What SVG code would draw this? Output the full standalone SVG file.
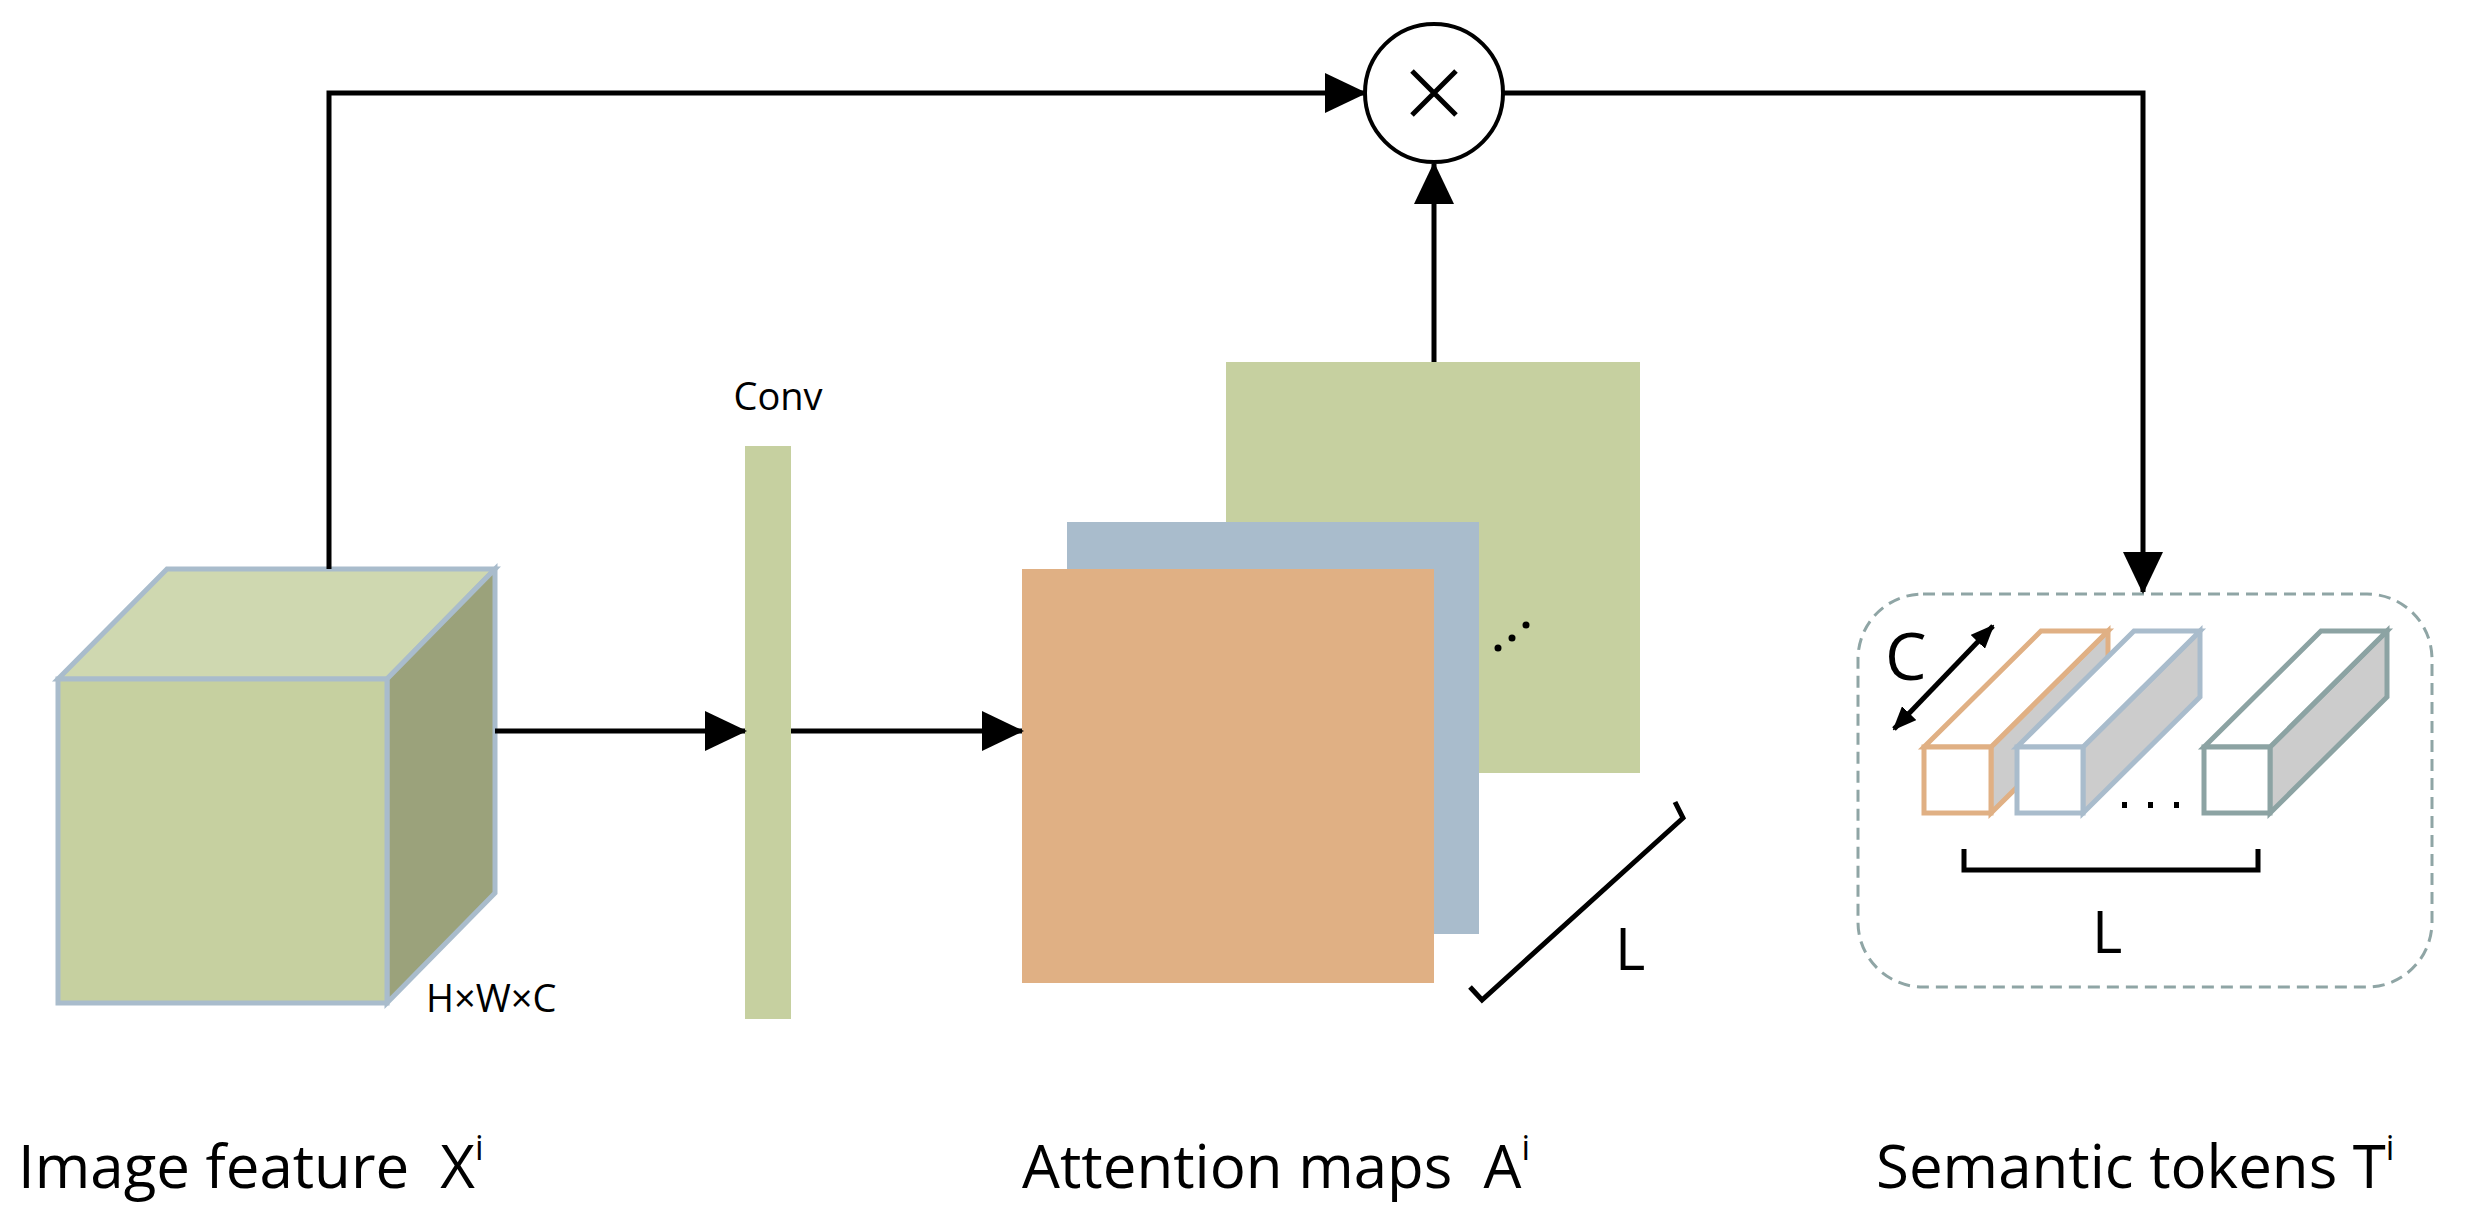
<svg xmlns="http://www.w3.org/2000/svg" width="2465" height="1212" viewBox="0 0 2465 1212">
<defs>
<marker id="ah" markerUnits="userSpaceOnUse" markerWidth="42" markerHeight="40" refX="40" refY="20" orient="auto"><path d="M0,0 L42,20 L0,40 Z" fill="#000"/></marker>
<marker id="sh" markerUnits="userSpaceOnUse" markerWidth="24" markerHeight="20" refX="22" refY="10" orient="auto-start-reverse"><path d="M0,0 L24,10 L0,20 Z" fill="#000"/></marker>
</defs>
<style>
text{font-family:"Open Sans","Noto Sans","Liberation Sans",sans-serif;fill:#000}
.ln{fill:none;stroke:#000;stroke-width:5}
.tok{stroke-width:5;stroke-linejoin:miter}
</style>
<rect width="2465" height="1212" fill="#fff"/>
<g id="image-feature">
<polygon points="58,679 167,569 495,569 387,679" fill="#cfd8b0" stroke="#a9bccc" stroke-width="5"/>
<polygon points="387,679 495,569 495,893 387,1003" fill="#9ba27b" stroke="#a9bccc" stroke-width="5"/>
<rect x="58" y="679" width="329" height="324" fill="#c6d0a0" stroke="#a9bccc" stroke-width="5"/>
<text x="426" y="1012" font-size="38">H×W×C</text>
<text x="18" y="1188" font-size="60">Image feature&#160;&#160;X<tspan font-size="34" dy="-28">i</tspan></text>
</g>
<g id="conv">
<rect x="745" y="446" width="46" height="573" fill="#c6d0a0"/>
<text x="778" y="410" font-size="38" text-anchor="middle">Conv</text>
</g>
<g id="attention-maps">
<rect x="1226" y="362" width="414" height="411" fill="#c6d0a0"/>
<rect x="1067" y="522" width="412" height="412" fill="#a9bccc"/>
<rect x="1022" y="569" width="412" height="414" fill="#e0b084"/>
<circle cx="1498" cy="648" r="3.5"/><circle cx="1512" cy="638" r="3.5"/><circle cx="1526" cy="625" r="3.5"/>
<path class="ln" d="M1470,987 L1482,1000 L1683,818 L1675,802"/>
<text x="1615" y="970" font-size="58">L</text>
<text x="1022" y="1188" font-size="60">Attention maps&#160;&#160;A<tspan font-size="34" dy="-28">i</tspan></text>
</g>
<g id="multiply">
<circle cx="1434" cy="93" r="69" fill="#fff" stroke="#000" stroke-width="4"/>
<path class="ln" d="M1412,71 L1456,115 M1456,71 L1412,115" stroke-width="3"/>
</g>
<g id="semantic-tokens">
<rect x="1858" y="594" width="574" height="393" rx="65" fill="none" stroke="#8fa5a5" stroke-width="3" stroke-dasharray="12,7"/>
<g class="tok" stroke="#e0b084">
<polygon points="1991,747 2108,631 2108,697 1991,813" fill="#cccccc"/>
<polygon points="1924,747 2041,631 2108,631 1991,747" fill="#fff"/>
<rect x="1924" y="747" width="67" height="66" fill="#fff"/>
</g>
<g class="tok" stroke="#a9bccc">
<polygon points="2083,747 2200,631 2200,697 2083,813" fill="#cccccc"/>
<polygon points="2017,747 2134,631 2200,631 2083,747" fill="#fff"/>
<rect x="2017" y="747" width="66" height="66" fill="#fff"/>
</g>
<g class="tok" stroke="#8ca3a3">
<polygon points="2270,747 2387,631 2387,697 2270,813" fill="#cccccc"/>
<polygon points="2204,747 2321,631 2387,631 2270,747" fill="#fff"/>
<rect x="2204" y="747" width="66" height="66" fill="#fff"/>
</g>
<rect x="2122" y="802" width="5" height="6"/><rect x="2148" y="802" width="5" height="6"/><rect x="2174" y="802" width="5" height="6"/>
<line class="ln" x1="1894" y1="729" x2="1993" y2="626" stroke-width="3" marker-start="url(#sh)" marker-end="url(#sh)"/>
<text x="1885" y="680" font-size="66">C</text>
<path class="ln" d="M1964,849 L1964,870 L2258,870 L2258,849"/>
<text x="2092" y="953" font-size="58">L</text>
<text x="1876" y="1188" font-size="60">Semantic tokens T<tspan font-size="34" dy="-28">i</tspan></text>
</g>
<g id="connectors">
<path class="ln" d="M329,569 L329,93 L1365,93" marker-end="url(#ah)"/>
<path class="ln" d="M1503,93 L2143,93 L2143,592" marker-end="url(#ah)"/>
<path class="ln" d="M1434,362 L1434,164" marker-end="url(#ah)"/>
<path class="ln" d="M495,731 L745,731" marker-end="url(#ah)"/>
<path class="ln" d="M791,731 L1022,731" marker-end="url(#ah)"/>
</g>
</svg>
